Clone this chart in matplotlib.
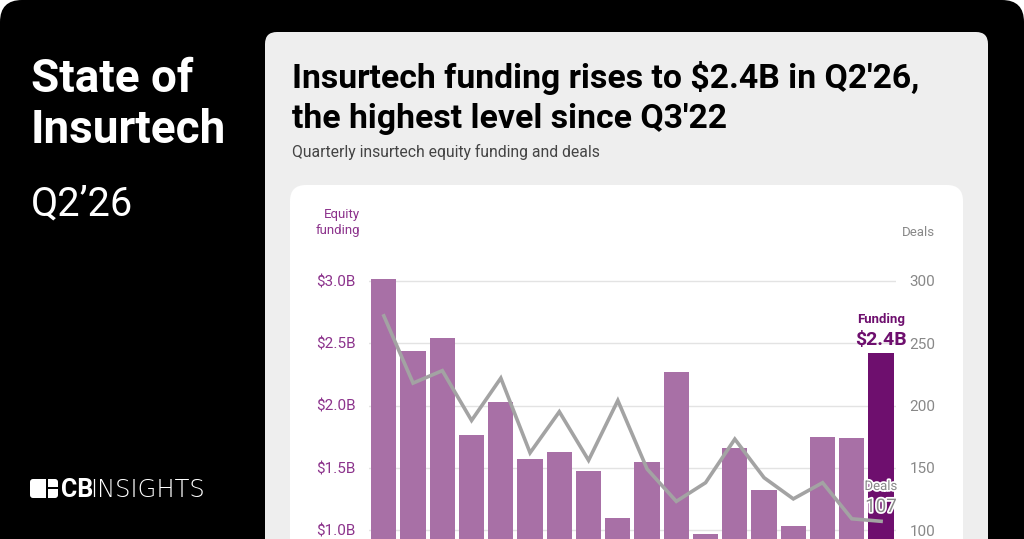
import numpy as np
import matplotlib.pyplot as plt
from matplotlib.patches import FancyBboxPatch, Rectangle
import matplotlib.patheffects as pe

plt.rcParams['font.family'] = ['Roboto', 'DejaVu Sans']

quarters = ["Q1'22", "Q2'22", "Q3'22", "Q4'22", "Q1'23", "Q2'23", "Q3'23", "Q4'23",
            "Q1'24", "Q2'24", "Q3'24", "Q4'24", "Q1'25", "Q2'25", "Q3'25", "Q4'25",
            "Q1'26", "Q2'26"]
funding = [3.02, 2.44, 2.54, 1.76, 2.03, 1.57, 1.63, 1.47, 1.10, 1.55, 2.27, 0.97,
           1.66, 1.32, 1.03, 1.75, 1.74, 2.42]
deals = [272, 218, 228, 188, 222, 162, 195, 156, 204, 149, 123, 138, 173, 142, 125,
         138, 109, 107]
left_ticks = [1.0, 1.5, 2.0, 2.5, 3.0]
left_labels = ['$1.0B', '$1.5B', '$2.0B', '$2.5B', '$3.0B']
right_ticks = [100, 150, 200, 250, 300]

W, H = 1024, 539
PURPLE_LIGHT = '#a870a6'
PURPLE_DARK = '#6e0f6e'
PURPLE_TXT = '#8c338c'
GREY_LINE = '#a3a3a3'
GREY_TXT = '#888888'

fig = plt.figure(figsize=(W / 100, H / 100), dpi=100)
fig.patch.set_facecolor('white')

# background panels drawn in pixel coordinates
bg = fig.add_axes([0, 0, 1, 1])
bg.set_xlim(0, W)
bg.set_ylim(H, 0)
bg.axis('off')
bg.add_patch(FancyBboxPatch((0, 0), W, H + 40, boxstyle='round,pad=0,rounding_size=22',
                            fc='black', ec='none'))
bg.add_patch(FancyBboxPatch((265, 32), 723, 560, boxstyle='round,pad=0,rounding_size=12',
                            fc='#eeeeee', ec='none'))
bg.add_patch(FancyBboxPatch((290, 185), 673, 400, boxstyle='round,pad=0,rounding_size=16',
                            fc='white', ec='none'))

# left side text
bg.text(31, 92, 'State of', color='white', fontsize=33, fontweight='bold', va='baseline')
bg.text(31, 143, 'Insurtech', color='white', fontsize=33, fontweight='bold', va='baseline')
bg.text(31, 216, 'Q2\u201926', color='white', fontsize=28.5, va='baseline')

# CB Insights logo
bg.add_patch(FancyBboxPatch((30, 479), 28, 19, boxstyle='round,pad=0,rounding_size=3',
                            fc='white', ec='none'))
bg.add_patch(Rectangle((45.8, 477), 2.4, 23, fc='black', ec='none'))
bg.add_patch(Rectangle((45.8, 487.2), 14, 2.2, fc='black', ec='none'))
bg.text(61, 497, 'CB', color='white', fontsize=18, fontweight='bold', va='baseline')
bg.text(90, 497, 'INSIGHTS', color='white', fontsize=17.5,
        family=['DejaVu Sans'], fontweight='light', va='baseline')

# title and subtitle
bg.text(292, 88, "Insurtech funding rises to $2.4B in Q2'26,", color='black',
        fontsize=24.3, fontweight='bold', va='baseline')
bg.text(292, 128, "the highest level since Q3'22", color='black',
        fontsize=24.3, fontweight='bold', va='baseline')
bg.text(292, 157, 'Quarterly insurtech equity funding and deals', color='#444444',
        fontsize=11.3, va='baseline')

# chart axes
x0, x1 = 369.2, 895.7
ytop, ybot = 270, 539
ax = fig.add_axes([x0 / W, 1 - ybot / H, (x1 - x0) / W, (ybot - ytop) / H])
ax.set_facecolor('none')
px_per_b = 124.5
ax.set_ylim(1.0 - (ybot - 530) / px_per_b, 3.0 + (281 - ytop) / px_per_b)
ax.set_xlim(-0.5, len(quarters) - 0.5)

xs = np.arange(len(quarters))
colors = [PURPLE_LIGHT] * (len(quarters) - 1) + [PURPLE_DARK]
ax.bar(xs, funding, width=0.865, color=colors, zorder=2)
ax.set_yticks(left_ticks)
ax.set_yticklabels(left_labels)
ax.grid(axis='y', color='#e3e3e3', linewidth=1, zorder=0)
ax.set_axisbelow(True)
ax.set_xticks([])
ax.tick_params(axis='y', length=0, pad=10, labelsize=11, labelcolor=PURPLE_TXT)
for s in ax.spines.values():
    s.set_visible(False)

ax2 = ax.twinx()
px_per_deal = 249 / 200
ax2.set_ylim(100 - (ybot - 530) / px_per_deal, 300 + (281 - ytop) / px_per_deal)
ax2.plot(xs, deals, color=GREY_LINE, linewidth=2.6, solid_joinstyle='miter', zorder=3)
ax2.set_yticks(right_ticks)
ax2.tick_params(axis='y', length=0, pad=10, labelsize=11, labelcolor=GREY_TXT)
for s in ax2.spines.values():
    s.set_visible(False)

# annotations on top of the chart
ann = fig.add_axes([0, 0, 1, 1])
ann.set_xlim(0, W)
ann.set_ylim(H, 0)
ann.axis('off')
ann.text(360, 218, 'Equity', color=PURPLE_TXT, fontsize=9.5, ha='right', va='baseline')
ann.text(360, 234, 'funding', color=PURPLE_TXT, fontsize=9.5, ha='right', va='baseline')
ann.text(935, 236, 'Deals', color=GREY_TXT, fontsize=9.5, ha='right', va='baseline')
ann.text(881, 323, 'Funding', color=PURPLE_DARK, fontsize=9.5, fontweight='bold',
         ha='center', va='baseline')
ann.text(881, 345, '$2.4B', color=PURPLE_DARK, fontsize=14, fontweight='bold',
         ha='center', va='baseline')
stroke = [pe.withStroke(linewidth=2.5, foreground='white')]
ann.text(881, 490, 'Deals', color=GREY_TXT, fontsize=9.5, ha='center', va='baseline',
         path_effects=stroke)
ann.text(881, 512, str(deals[-1]), color=GREY_TXT, fontsize=13.5, ha='center',
         va='baseline', path_effects=stroke)

fig.savefig('out.png', dpi=100)
